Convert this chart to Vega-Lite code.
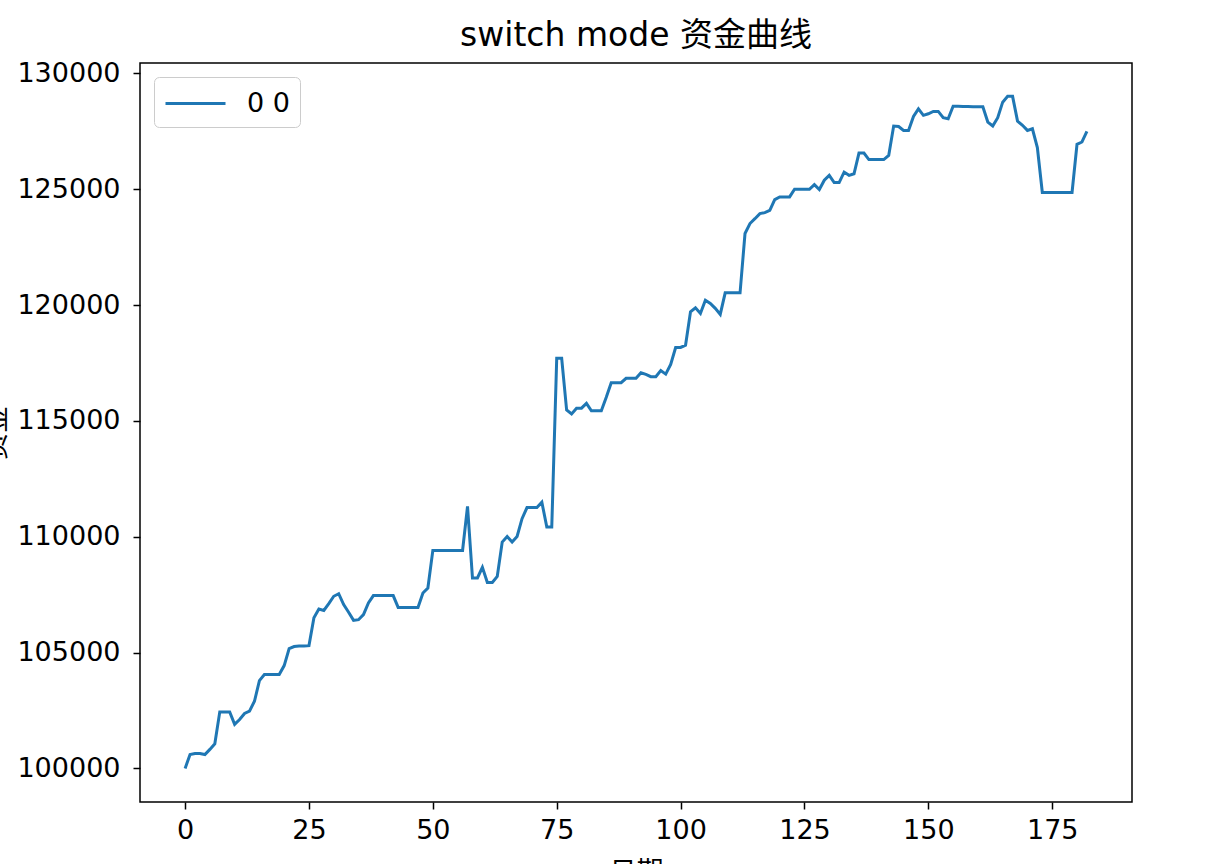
{
  "$schema": "https://vega.github.io/schema/vega-lite/v6.json",
  "width": 992,
  "height": 739,
  "autosize": {"type": "none"},
  "padding": {"left": 140, "top": 63, "right": 86, "bottom": 62},
  "background": "white",
  "title": {
    "text": "switch mode 资金曲线",
    "font": "DejaVu Sans, Noto Sans CJK SC",
    "fontSize": 33,
    "fontWeight": "normal",
    "color": "black",
    "anchor": "middle",
    "baseline": "alphabetic",
    "offset": 13,
    "dy": 33
  },
  "config": {
    "view": {"stroke": "black", "strokeWidth": 1.5},
    "axis": {
      "grid": false,
      "domain": false,
      "tickColor": "black",
      "tickWidth": 1.5,
      "tickSize": 7,
      "labelFont": "DejaVu Sans",
      "labelFontSize": 27,
      "labelColor": "black",
      "labelPadding": 8,
      "titleFont": "Noto Sans CJK SC",
      "titleFontSize": 27,
      "titleFontWeight": "normal",
      "titleColor": "black"
    }
  },
  "data": {
    "values": [
      {"x":0,"v":100000,"s":"0 0"},{"x":1,"v":100600,"s":"0 0"},{"x":2,"v":100640,"s":"0 0"},{"x":3,"v":100640,"s":"0 0"},{"x":4,"v":100600,"s":"0 0"},
      {"x":5,"v":100820,"s":"0 0"},{"x":6,"v":101060,"s":"0 0"},{"x":7,"v":102440,"s":"0 0"},{"x":8,"v":102440,"s":"0 0"},{"x":9,"v":102440,"s":"0 0"},
      {"x":10,"v":101900,"s":"0 0"},{"x":11,"v":102110,"s":"0 0"},{"x":12,"v":102370,"s":"0 0"},{"x":13,"v":102470,"s":"0 0"},{"x":14,"v":102900,"s":"0 0"},
      {"x":15,"v":103790,"s":"0 0"},{"x":16,"v":104050,"s":"0 0"},{"x":17,"v":104050,"s":"0 0"},{"x":18,"v":104050,"s":"0 0"},{"x":19,"v":104050,"s":"0 0"},
      {"x":20,"v":104440,"s":"0 0"},{"x":21,"v":105170,"s":"0 0"},{"x":22,"v":105260,"s":"0 0"},{"x":23,"v":105280,"s":"0 0"},{"x":24,"v":105280,"s":"0 0"},
      {"x":25,"v":105300,"s":"0 0"},{"x":26,"v":106500,"s":"0 0"},{"x":27,"v":106880,"s":"0 0"},{"x":28,"v":106820,"s":"0 0"},{"x":29,"v":107110,"s":"0 0"},
      {"x":30,"v":107430,"s":"0 0"},{"x":31,"v":107540,"s":"0 0"},{"x":32,"v":107070,"s":"0 0"},{"x":33,"v":106740,"s":"0 0"},{"x":34,"v":106390,"s":"0 0"},
      {"x":35,"v":106420,"s":"0 0"},{"x":36,"v":106640,"s":"0 0"},{"x":37,"v":107140,"s":"0 0"},{"x":38,"v":107460,"s":"0 0"},{"x":39,"v":107460,"s":"0 0"},
      {"x":40,"v":107460,"s":"0 0"},{"x":41,"v":107460,"s":"0 0"},{"x":42,"v":107460,"s":"0 0"},{"x":43,"v":106950,"s":"0 0"},{"x":44,"v":106950,"s":"0 0"},
      {"x":45,"v":106950,"s":"0 0"},{"x":46,"v":106950,"s":"0 0"},{"x":47,"v":106950,"s":"0 0"},{"x":48,"v":107570,"s":"0 0"},{"x":49,"v":107790,"s":"0 0"},
      {"x":50,"v":109410,"s":"0 0"},{"x":51,"v":109410,"s":"0 0"},{"x":52,"v":109410,"s":"0 0"},{"x":53,"v":109410,"s":"0 0"},{"x":54,"v":109410,"s":"0 0"},
      {"x":55,"v":109410,"s":"0 0"},{"x":56,"v":109410,"s":"0 0"},{"x":57,"v":111310,"s":"0 0"},{"x":58,"v":108220,"s":"0 0"},{"x":59,"v":108220,"s":"0 0"},
      {"x":60,"v":108680,"s":"0 0"},{"x":61,"v":108030,"s":"0 0"},{"x":62,"v":108030,"s":"0 0"},{"x":63,"v":108290,"s":"0 0"},{"x":64,"v":109770,"s":"0 0"},
      {"x":65,"v":110010,"s":"0 0"},{"x":66,"v":109770,"s":"0 0"},{"x":67,"v":110010,"s":"0 0"},{"x":68,"v":110780,"s":"0 0"},{"x":69,"v":111260,"s":"0 0"},
      {"x":70,"v":111260,"s":"0 0"},{"x":71,"v":111260,"s":"0 0"},{"x":72,"v":111490,"s":"0 0"},{"x":73,"v":110420,"s":"0 0"},{"x":74,"v":110420,"s":"0 0"},
      {"x":75,"v":117700,"s":"0 0"},{"x":76,"v":117700,"s":"0 0"},{"x":77,"v":115470,"s":"0 0"},{"x":78,"v":115300,"s":"0 0"},{"x":79,"v":115550,"s":"0 0"},
      {"x":80,"v":115550,"s":"0 0"},{"x":81,"v":115760,"s":"0 0"},{"x":82,"v":115440,"s":"0 0"},{"x":83,"v":115440,"s":"0 0"},{"x":84,"v":115440,"s":"0 0"},
      {"x":85,"v":116020,"s":"0 0"},{"x":86,"v":116650,"s":"0 0"},{"x":87,"v":116650,"s":"0 0"},{"x":88,"v":116650,"s":"0 0"},{"x":89,"v":116840,"s":"0 0"},
      {"x":90,"v":116840,"s":"0 0"},{"x":91,"v":116840,"s":"0 0"},{"x":92,"v":117080,"s":"0 0"},{"x":93,"v":117010,"s":"0 0"},{"x":94,"v":116910,"s":"0 0"},
      {"x":95,"v":116910,"s":"0 0"},{"x":96,"v":117170,"s":"0 0"},{"x":97,"v":117020,"s":"0 0"},{"x":98,"v":117440,"s":"0 0"},{"x":99,"v":118170,"s":"0 0"},
      {"x":100,"v":118170,"s":"0 0"},{"x":101,"v":118270,"s":"0 0"},{"x":102,"v":119710,"s":"0 0"},{"x":103,"v":119880,"s":"0 0"},{"x":104,"v":119640,"s":"0 0"},
      {"x":105,"v":120210,"s":"0 0"},{"x":106,"v":120070,"s":"0 0"},{"x":107,"v":119860,"s":"0 0"},{"x":108,"v":119600,"s":"0 0"},{"x":109,"v":120530,"s":"0 0"},
      {"x":110,"v":120530,"s":"0 0"},{"x":111,"v":120530,"s":"0 0"},{"x":112,"v":120530,"s":"0 0"},{"x":113,"v":123090,"s":"0 0"},{"x":114,"v":123520,"s":"0 0"},
      {"x":115,"v":123730,"s":"0 0"},{"x":116,"v":123950,"s":"0 0"},{"x":117,"v":123990,"s":"0 0"},{"x":118,"v":124090,"s":"0 0"},{"x":119,"v":124550,"s":"0 0"},
      {"x":120,"v":124670,"s":"0 0"},{"x":121,"v":124670,"s":"0 0"},{"x":122,"v":124670,"s":"0 0"},{"x":123,"v":125000,"s":"0 0"},{"x":124,"v":125000,"s":"0 0"},
      {"x":125,"v":125000,"s":"0 0"},{"x":126,"v":125000,"s":"0 0"},{"x":127,"v":125200,"s":"0 0"},{"x":128,"v":124990,"s":"0 0"},{"x":129,"v":125390,"s":"0 0"},
      {"x":130,"v":125600,"s":"0 0"},{"x":131,"v":125290,"s":"0 0"},{"x":132,"v":125290,"s":"0 0"},{"x":133,"v":125740,"s":"0 0"},{"x":134,"v":125600,"s":"0 0"},
      {"x":135,"v":125670,"s":"0 0"},{"x":136,"v":126560,"s":"0 0"},{"x":137,"v":126560,"s":"0 0"},{"x":138,"v":126280,"s":"0 0"},{"x":139,"v":126280,"s":"0 0"},
      {"x":140,"v":126280,"s":"0 0"},{"x":141,"v":126280,"s":"0 0"},{"x":142,"v":126460,"s":"0 0"},{"x":143,"v":127730,"s":"0 0"},{"x":144,"v":127710,"s":"0 0"},
      {"x":145,"v":127540,"s":"0 0"},{"x":146,"v":127540,"s":"0 0"},{"x":147,"v":128140,"s":"0 0"},{"x":148,"v":128470,"s":"0 0"},{"x":149,"v":128190,"s":"0 0"},
      {"x":150,"v":128260,"s":"0 0"},{"x":151,"v":128360,"s":"0 0"},{"x":152,"v":128360,"s":"0 0"},{"x":153,"v":128090,"s":"0 0"},{"x":154,"v":128040,"s":"0 0"},
      {"x":155,"v":128580,"s":"0 0"},{"x":156,"v":128580,"s":"0 0"},{"x":157,"v":128570,"s":"0 0"},{"x":158,"v":128570,"s":"0 0"},{"x":159,"v":128560,"s":"0 0"},
      {"x":160,"v":128560,"s":"0 0"},{"x":161,"v":128560,"s":"0 0"},{"x":162,"v":127900,"s":"0 0"},{"x":163,"v":127730,"s":"0 0"},{"x":164,"v":128090,"s":"0 0"},
      {"x":165,"v":128760,"s":"0 0"},{"x":166,"v":129010,"s":"0 0"},{"x":167,"v":129010,"s":"0 0"},{"x":168,"v":127940,"s":"0 0"},{"x":169,"v":127760,"s":"0 0"},
      {"x":170,"v":127540,"s":"0 0"},{"x":171,"v":127610,"s":"0 0"},{"x":172,"v":126800,"s":"0 0"},{"x":173,"v":124860,"s":"0 0"},{"x":174,"v":124860,"s":"0 0"},
      {"x":175,"v":124860,"s":"0 0"},{"x":176,"v":124860,"s":"0 0"},{"x":177,"v":124860,"s":"0 0"},{"x":178,"v":124860,"s":"0 0"},{"x":179,"v":124860,"s":"0 0"},
      {"x":180,"v":126940,"s":"0 0"},{"x":181,"v":127040,"s":"0 0"},{"x":182,"v":127500,"s":"0 0"}
    ]
  },
  "mark": {"type": "line", "strokeWidth": 3, "clip": true},
  "encoding": {
    "x": {
      "field": "x",
      "type": "quantitative",
      "scale": {"domain": [-9.1, 191.1], "nice": false, "zero": false},
      "axis": {"values": [0, 25, 50, 75, 100, 125, 150, 175], "title": "日期", "titlePadding": 16}
    },
    "y": {
      "field": "v",
      "type": "quantitative",
      "scale": {"domain": [98550, 130450], "nice": false, "zero": false},
      "axis": {"values": [100000, 105000, 110000, 115000, 120000, 125000, 130000], "format": "d", "title": "资金", "titlePadding": 6, "labelPadding": 13}
    },
    "color": {
      "field": "s",
      "type": "nominal",
      "scale": {"range": ["#1f77b4"]},
      "legend": {
        "title": null,
        "orient": "top-left",
        "offset": 14,
        "symbolType": "M-1,0H3",
        "symbolSize": 900,
        "symbolStrokeWidth": 3,
        "symbolFillColor": "transparent",
        "labelFont": "DejaVu Sans",
        "labelFontSize": 27,
        "labelColor": "black",
        "labelOffset": 50,
        "padding": 10,
        "strokeColor": "#cccccc",
        "fillColor": "rgba(255,255,255,0.8)",
        "cornerRadius": 5
      }
    }
  }
}
